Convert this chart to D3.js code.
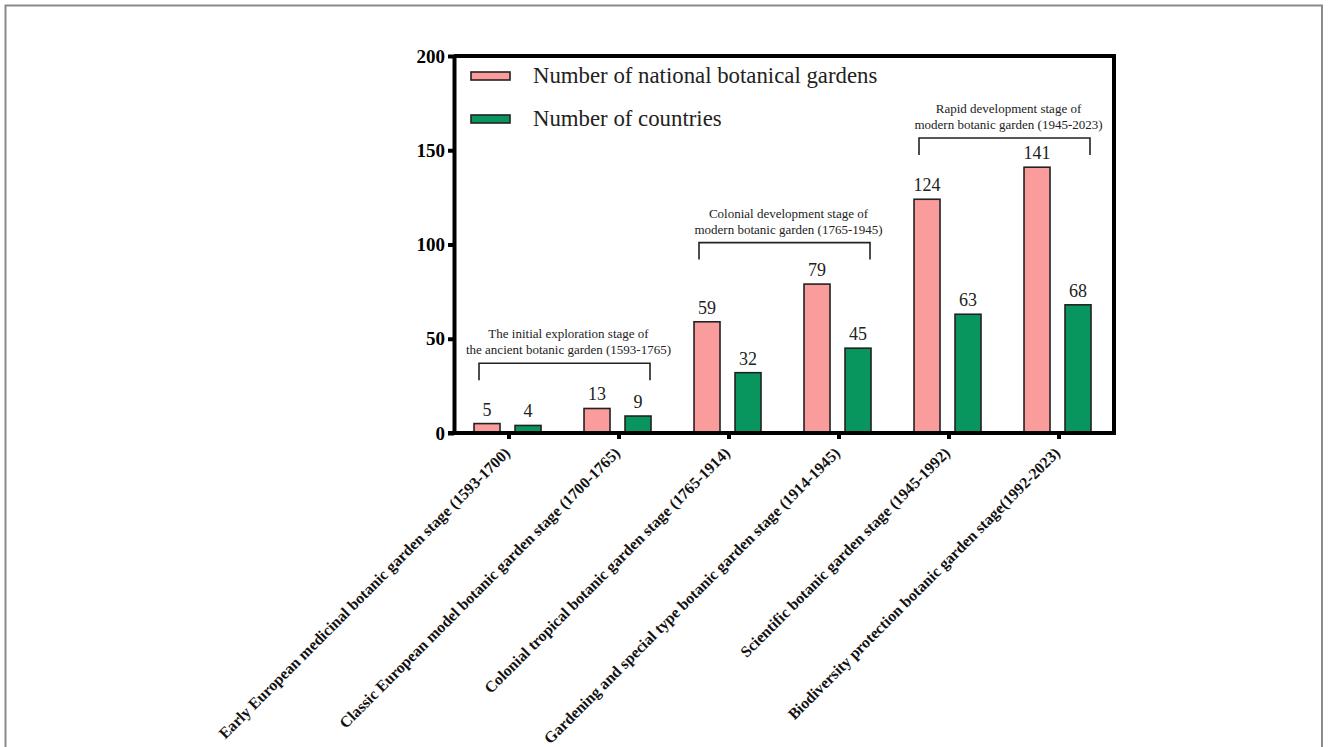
<!DOCTYPE html>
<html>
<head>
<meta charset="utf-8">
<script src="https://cdn.jsdelivr.net/npm/d3@7"></script>
<style>
  html, body { margin: 0; padding: 0; background: #fff; }
  svg { display: block; }
  text { font-family: "Liberation Serif", "Times New Roman", serif; }
</style>
</head>
<body>
<svg id="chart" width="1328" height="747"></svg>
<script>
// Stages of botanic garden development
const categories = [
  "Early European medicinal botanic garden stage (1593-1700)",
  "Classic European model botanic garden stage (1700-1765)",
  "Colonial tropical botanic garden stage (1765-1914)",
  "Gardening and special type botanic garden stage (1914-1945)",
  "Scientific botanic garden stage (1945-1992)",
  "Biodiversity protection botanic garden stage(1992-2023)"
];
const seriesNames = ["Number of national botanical gardens", "Number of countries"];
const gardens   = [5, 13, 59, 79, 124, 141];
const countries = [4, 9, 32, 45, 63, 68];
const yTicks = [0, 50, 100, 150, 200];

// Period brackets: first and last stage covered, two-line caption, level on the y scale
const periods = [
  { from: 0, to: 1, lines: ["The initial exploration stage of", "the ancient botanic garden (1593-1765)"], level: 37 },
  { from: 2, to: 3, lines: ["Colonial development stage of", "modern botanic garden (1765-1945)"], level: 101 },
  { from: 4, to: 5, lines: ["Rapid development stage of", "modern botanic garden (1945-2023)"], level: 156.5 }
];

const colors = ["#FA9C9C", "#08965E"];

const svg = d3.select("#chart");

// outer frame
svg.append("path")
  .attr("d", "M5.5,760 V5.5 H1322 V760")
  .attr("fill", "none")
  .attr("stroke", "#8a8a8a")
  .attr("stroke-width", 2);

const plot = { left: 454, right: 1114, top: 56, bottom: 433 };

const x0 = d3.scaleBand().domain(d3.range(categories.length))
  .range([plot.left, plot.right]).paddingInner(0).paddingOuter(0);
const bw = x0.bandwidth();
const x1 = d3.scaleBand().domain([0, 1])
  .range([bw * 0.182, bw * 0.791]).paddingInner(0.366).paddingOuter(0);
const y = d3.scaleLinear().domain([0, 200]).range([plot.bottom, plot.top]);

const values = [gardens, countries];

// bars
const groups = svg.append("g").selectAll("g")
  .data(categories.map((c, i) => i))
  .join("g")
  .attr("transform", i => `translate(${x0(i)},0)`);

groups.selectAll("rect")
  .data(i => values.map((v, s) => ({ s, v: v[i] })))
  .join("rect")
  .attr("x", d => x1(d.s))
  .attr("y", d => y(d.v))
  .attr("width", x1.bandwidth())
  .attr("height", d => y(0) - y(d.v))
  .attr("fill", d => colors[d.s])
  .attr("stroke", "#222")
  .attr("stroke-width", 1.6);

// value labels
groups.selectAll("text.val")
  .data(i => values.map((v, s) => ({ s, v: v[i] })))
  .join("text")
  .attr("class", "val")
  .attr("x", d => x1(d.s) + x1.bandwidth() / 2)
  .attr("y", d => y(d.v) - 8)
  .attr("text-anchor", "middle")
  .attr("font-size", 18)
  .attr("fill", "#222")
  .text(d => d.v);

// plot frame (top and right)
svg.append("path")
  .attr("d", `M${plot.left},${plot.top} H${plot.right} V${plot.bottom}`)
  .attr("fill", "none")
  .attr("stroke", "#000")
  .attr("stroke-width", 4);

// y axis
const yAxis = svg.append("g")
  .attr("transform", `translate(${plot.left},0)`)
  .call(d3.axisLeft(y).tickValues(yTicks).tickSize(6).tickPadding(3).tickSizeOuter(0));
yAxis.select(".domain").attr("stroke", "#000").attr("stroke-width", 4);
yAxis.selectAll(".tick line").attr("stroke", "#000").attr("stroke-width", 4);
yAxis.selectAll(".tick text")
  .attr("font-family", "'Liberation Serif', 'Times New Roman', serif")
  .attr("font-size", 19).attr("font-weight", "bold").attr("fill", "#000");

// x axis
const xAxis = svg.append("g")
  .attr("transform", `translate(0,${plot.bottom})`)
  .call(d3.axisBottom(x0).tickSize(6).tickSizeOuter(0).tickFormat(i => categories[i]));
xAxis.select(".domain").attr("stroke", "#000").attr("stroke-width", 4)
  .attr("d", `M${plot.left - 6},0 H${plot.right + 2}`);
xAxis.selectAll(".tick line").attr("stroke", "#000").attr("stroke-width", 4);
xAxis.selectAll(".tick text")
  .attr("font-family", "'Liberation Serif', 'Times New Roman', serif")
  .attr("font-size", 15.8).attr("font-weight", "bold").attr("fill", "#111")
  .attr("text-anchor", "end")
  .attr("dy", 0)
  .attr("transform", "translate(2,21) rotate(-45)")
  .attr("y", 0).attr("x", 0);

// legend
const legend = svg.append("g");
seriesNames.forEach((name, s) => {
  const cy = 76 + s * 43;
  legend.append("rect")
    .attr("x", 471).attr("y", cy - 4)
    .attr("width", 39).attr("height", 8)
    .attr("fill", colors[s]).attr("stroke", "#222").attr("stroke-width", 1.6);
  legend.append("text")
    .attr("x", 533).attr("y", cy + 7)
    .attr("font-size", 22.8).attr("fill", "#222")
    .text(name);
});

// period brackets
const ann = svg.append("g");
periods.forEach(p => {
  const xa = x0(p.from) + bw / 2 - 30;
  const xb = x0(p.to) + bw / 2 + 31;
  const yl = y(p.level);
  ann.append("path")
    .attr("d", `M${xa},${yl + 17} V${yl} H${xb} V${yl + 17}`)
    .attr("fill", "none").attr("stroke", "#222").attr("stroke-width", 1.6);
  const cx = (xa + xb) / 2 + 4;
  p.lines.forEach((line, k) => {
    ann.append("text")
      .attr("x", cx).attr("y", yl - 9 - (p.lines.length - 1 - k) * 16)
      .attr("text-anchor", "middle")
      .attr("font-size", 13).attr("fill", "#222")
      .text(line);
  });
});
</script>
</body>
</html>
